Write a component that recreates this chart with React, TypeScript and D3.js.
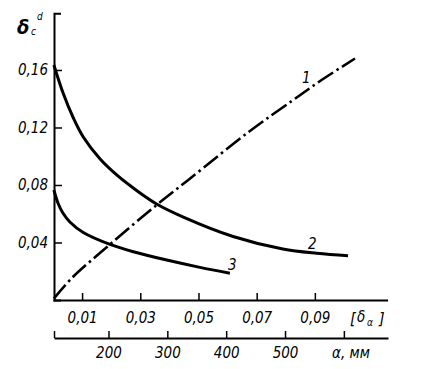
import React, { useEffect, useRef } from 'react';
import * as d3 from 'd3';

// values (x = δα, y = δc^d)
const curve1X = [0.0003, 0.0064, 0.0196, 0.0356, 0.0465, 0.0677, 0.0825, 0.0923, 0.1038];
const curve1Y = [0.001, 0.0151, 0.0387, 0.0661, 0.0835, 0.1176, 0.139, 0.153, 0.168];

const curve2X = [0.0003, 0.0035, 0.007, 0.0104, 0.0162, 0.0219, 0.0276, 0.0356, 0.0448, 0.0619, 0.079, 0.0907, 0.1014];
const curve2Y = [0.1635, 0.1438, 0.1266, 0.1134, 0.0981, 0.087, 0.0779, 0.0668, 0.0577, 0.0442, 0.0355, 0.0325, 0.0308];

const curve3X = [0.0003, 0.0017, 0.0034, 0.0058, 0.0104, 0.0196, 0.0276, 0.0391, 0.0505, 0.0608];
const curve3Y = [0.0765, 0.0675, 0.0605, 0.0543, 0.047, 0.0387, 0.0336, 0.0278, 0.0227, 0.0186];

const yTicks = [0.04, 0.08, 0.12, 0.16];
const xTicks = [0.01, 0.03, 0.05, 0.07, 0.09];
const aTicks = [200, 300, 400, 500, 600];
const aLabels = ['200', '300', '400', '500', ''];

const FONT = "'DejaVu Sans Condensed', 'DejaVu Sans', sans-serif";

const App = () => {
  const ref = useRef<SVGSVGElement>(null);

  useEffect(() => {
    const svg = d3.select(ref.current);
    svg.selectAll('*').remove();

    const x = d3.scaleLinear().domain([0, 0.115]).range([53, 387.6]);
    const y = d3.scaleLinear().domain([0, 0.1995]).range([300, 13.2]);
    const a = d3.scaleLinear().domain([107.4, 675]).range([54, 388]);

    const comma = (d: number) => d3.format('.2f')(d).replace('.', ',');

    // y axis, ticks pointing inside
    const gy = svg.append('g').attr('transform', 'translate(54,0)')
      .call(d3.axisLeft(y).tickValues(yTicks).tickSizeInner(-8).tickSizeOuter(-7).tickPadding(6).tickFormat(comma as any));

    // δα axis
    const gx = svg.append('g').attr('transform', 'translate(0,300)')
      .call(d3.axisBottom(x).tickValues(xTicks).tickSizeInner(-7).tickSizeOuter(0).tickPadding(12).tickFormat(comma as any));

    // α, mm axis
    const ga = svg.append('g').attr('transform', 'translate(0,338)')
      .call(d3.axisBottom(a).tickValues([107.4, ...aTicks]).tickSizeInner(-7).tickSizeOuter(0).tickPadding(9)
        .tickFormat(((d: number) => { const i = aTicks.indexOf(d); return i < 0 ? '' : aLabels[i]; }) as any));

    [gy, gx, ga].forEach(g => {
      g.select('.domain').attr('stroke', '#000').attr('stroke-width', 2);
      g.selectAll('.tick line').attr('stroke', '#000').attr('stroke-width', 1.5);
      g.selectAll('.tick text').attr('fill', '#000')
        .style('font-family', FONT).style('font-stretch', 'condensed')
        .style('font-style', 'italic').style('font-size', '15px');
    });

    const line = d3.line<number>().curve(d3.curveCatmullRom.alpha(0.5));

    const draw = (xs: number[], ys: number[], dash?: string) => {
      svg.append('path')
        .attr('d', line.x((_, i) => x(xs[i])).y((_, i) => y(ys[i]))(xs))
        .attr('fill', 'none')
        .attr('stroke', '#000')
        .attr('stroke-width', dash ? 2.6 : 3)
        .attr('stroke-dasharray', dash || null);
    };
    draw(curve1X, curve1Y, '18 4 2.5 4');
    draw(curve2X, curve2Y);
    draw(curve3X, curve3Y);

    const label = (tx: number, ty: number, t: string, size = 15) =>
      svg.append('text').attr('x', tx).attr('y', ty).text(t)
        .style('font-family', FONT).style('font-stretch', 'condensed')
        .style('font-style', 'italic').style('font-size', size + 'px');

    label(302, 83, '1');
    label(308, 249, '2');
    label(228, 270, '3');
    label(350, 324, '[', 16);
    label(357, 322, 'δ', 15);
    label(367, 326, 'α', 10);
    label(379, 324, ']', 16);
    label(332, 358, 'α, мм');

    // y title δc^d
    label(17, 34, 'δ', 20).style('font-weight', 'bold');
    label(31, 35, 'c', 10);
    label(37, 20, 'd', 10);
  }, []);

  return (
    <svg ref={ref} width={433} height={369}
      style={{ position: 'absolute', left: 0, top: 0, background: '#fff' }} />
  );
};

export default App;
